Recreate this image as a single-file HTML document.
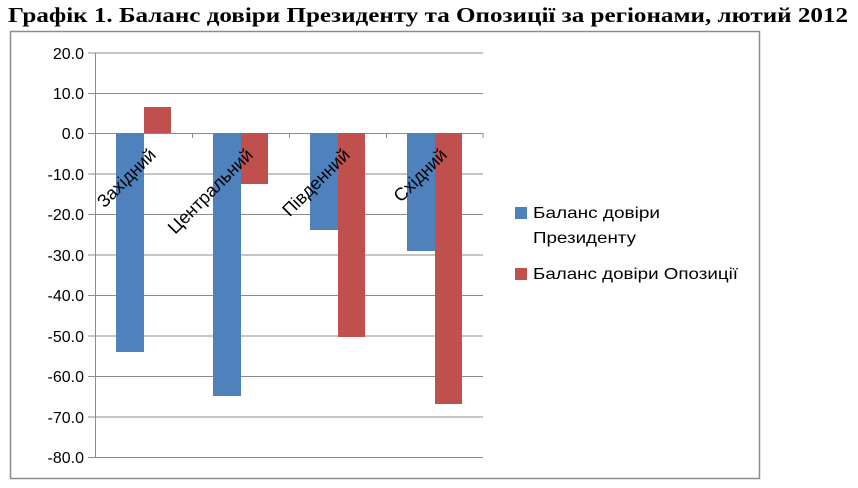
<!DOCTYPE html>
<html><head><meta charset="utf-8"><style>body{margin:0;background:#fff}svg{display:block}</style></head><body>
<svg width="858" height="488" xmlns="http://www.w3.org/2000/svg">
<text x="8" y="22" font-family="Liberation Serif, serif" font-weight="bold" font-size="21" textLength="840" lengthAdjust="spacingAndGlyphs">Графік 1. Баланс довіри Президенту та Опозиції за регіонами, лютий 2012</text>
<rect x="10.5" y="31.5" width="749" height="447" fill="#fff" stroke="#8c8c8c" stroke-width="1.5"/>
<g stroke="#8c8c8c" stroke-width="1">
<line x1="88" x2="483" y1="53" y2="53"/><line x1="88" x2="483" y1="93.5" y2="93.5"/><line x1="88" x2="483" y1="133.5" y2="133.5"/><line x1="88" x2="483" y1="174" y2="174"/><line x1="88" x2="483" y1="214.5" y2="214.5"/><line x1="88" x2="483" y1="255" y2="255"/><line x1="88" x2="483" y1="295.5" y2="295.5"/><line x1="88" x2="483" y1="336" y2="336"/><line x1="88" x2="483" y1="376.5" y2="376.5"/><line x1="88" x2="483" y1="417" y2="417"/><line x1="88" x2="483" y1="457.5" y2="457.5"/>
<line x1="95.5" x2="95.5" y1="53" y2="457.5"/>
<line x1="192.5" x2="192.5" y1="133" y2="138"/><line x1="289.5" x2="289.5" y1="133" y2="138"/><line x1="386.5" x2="386.5" y1="133" y2="138"/><line x1="483" x2="483" y1="133" y2="138"/>
</g>
<g font-family="Liberation Sans, sans-serif" font-size="16" fill="#000" text-anchor="end">
<text x="84" y="59">20.0</text><text x="84" y="99">10.0</text><text x="84" y="139">0.0</text><text x="84" y="180">-10.0</text><text x="84" y="220">-20.0</text><text x="84" y="261">-30.0</text><text x="84" y="301">-40.0</text><text x="84" y="342">-50.0</text><text x="84" y="382">-60.0</text><text x="84" y="423">-70.0</text><text x="84" y="463">-80.0</text>
</g>
<g fill="#4f81bd">
<rect x="116" y="133" width="28" height="219"/><rect x="213" y="133" width="28" height="263"/><rect x="310" y="133" width="28" height="97"/><rect x="407" y="133" width="28" height="118"/>
</g>
<g fill="#c0504d">
<rect x="144" y="107" width="27" height="26"/><rect x="241" y="133" width="27" height="51"/><rect x="338" y="133" width="27" height="204"/><rect x="435" y="133" width="27" height="271"/>
</g>
<g font-family="Liberation Sans, sans-serif" font-size="18" fill="#000" text-anchor="end">
<text transform="translate(157,156) rotate(-45)">Західний</text>
<text transform="translate(254,156) rotate(-45)">Центральний</text>
<text transform="translate(351,156) rotate(-45)">Південний</text>
<text transform="translate(448,156) rotate(-45)">Східний</text>
</g>
<rect x="515" y="207" width="12" height="12" fill="#4f81bd"/>
<rect x="515" y="268" width="12" height="12" fill="#c0504d"/>
<g font-family="Liberation Sans, sans-serif" font-size="16" fill="#000">
<text x="533" y="218" textLength="127" lengthAdjust="spacingAndGlyphs">Баланс довіри</text>
<text x="533" y="243" textLength="103" lengthAdjust="spacingAndGlyphs">Президенту</text>
<text x="533" y="279" textLength="205" lengthAdjust="spacingAndGlyphs">Баланс довіри Опозиції</text>
</g>
</svg>
</body></html>
